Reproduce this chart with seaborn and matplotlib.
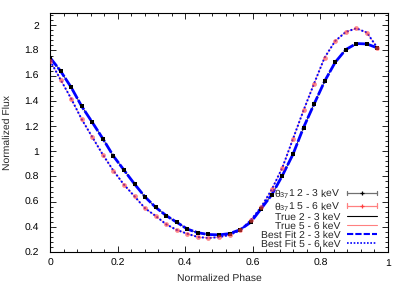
import matplotlib
matplotlib.use("Agg")
import matplotlib.pyplot as plt
import seaborn as sns
import numpy as np
from matplotlib.lines import Line2D
from matplotlib.legend_handler import HandlerBase
from matplotlib.ticker import MultipleLocator, FormatStrFormatter

phase = [0.0, 0.03125, 0.0625, 0.09375, 0.125, 0.15625, 0.1875, 0.21875,
         0.25, 0.28125, 0.3125, 0.34375, 0.375, 0.40625, 0.4375, 0.46875,
         0.5, 0.53125, 0.5625, 0.59375, 0.625, 0.65625, 0.6875, 0.71875,
         0.75, 0.78125, 0.8125, 0.84375, 0.875, 0.90625, 0.9375, 0.96875]

flux_2_3 = [1.744, 1.637, 1.508, 1.357, 1.230, 1.100, 0.962, 0.851,
            0.740, 0.637, 0.555, 0.489, 0.436, 0.382, 0.353, 0.339,
            0.336, 0.346, 0.377, 0.436, 0.545, 0.655, 0.807, 0.975,
            1.188, 1.374, 1.556, 1.706, 1.807, 1.855, 1.852, 1.820]

flux_5_6 = [1.720, 1.569, 1.418, 1.254, 1.113, 0.973, 0.846, 0.735,
            0.642, 0.547, 0.486, 0.420, 0.375, 0.345, 0.319, 0.311,
            0.318, 0.335, 0.372, 0.452, 0.558, 0.697, 0.870, 1.097,
            1.324, 1.537, 1.744, 1.875, 1.947, 1.976, 1.942, 1.820]

true_2_3 = list(flux_2_3)
true_5_6 = list(flux_5_6)
fit_2_3 = list(flux_2_3)
fit_5_6 = list(flux_5_6)

labels = ["θ$_{37}$1 2 - 3 keV", "θ$_{37}$1 5 - 6 keV",
          "True 2 - 3 keV", "True 5 - 6 keV",
          "Best Fit 2 - 3 keV", "Best Fit 5 - 6 keV"]

sns.set_style("ticks")
plt.rcParams["font.family"] = ["Liberation Sans", "DejaVu Sans"]
plt.rcParams["mathtext.fontset"] = "custom"
plt.rcParams["mathtext.rm"] = "Liberation Sans"
plt.rcParams["mathtext.it"] = "Liberation Sans:italic"
plt.rcParams["text.hinting"] = "no_hinting"
FS = 7.5
plt.rcParams["font.size"] = FS

fig = plt.figure(figsize=(4.07, 2.85), dpi=100)
ax = fig.add_axes([50 / 407, 1 - 252 / 285, 338 / 407, (252 - 12.7) / 285])

BLUE = "#0000ff"
RED = "#ff4040"
LRED = "#ff8080"

sns.lineplot(x=phase, y=true_2_3, ax=ax, color="black", lw=0.5, sort=False, estimator=None)
sns.lineplot(x=phase, y=true_5_6, ax=ax, color=LRED, lw=0.5, sort=False, estimator=None)
sns.lineplot(x=phase, y=fit_2_3, ax=ax, color=BLUE, lw=2.0, linestyle=(0, (4, 0.6)),
             sort=False, estimator=None)
sns.lineplot(x=phase, y=fit_5_6, ax=ax, color=BLUE, lw=1.4, linestyle=(0, (1, 1)),
             sort=False, estimator=None)
sns.scatterplot(x=phase, y=flux_2_3, ax=ax, color="black", s=10, marker="s",
                linewidth=0, zorder=5)
sns.scatterplot(x=phase, y=flux_5_6, ax=ax, color=RED, s=12, marker="o",
                linewidth=0, alpha=0.6, zorder=5)

ax.set_xlim(0, 1)
ax.set_ylim(0.2, 2.1)
ax.xaxis.set_major_locator(MultipleLocator(0.2))
ax.xaxis.set_minor_locator(MultipleLocator(0.04))
ax.yaxis.set_major_locator(MultipleLocator(0.2))
ax.yaxis.set_minor_locator(MultipleLocator(0.04))
ax.xaxis.set_major_formatter(FormatStrFormatter("%g"))
ax.yaxis.set_major_formatter(FormatStrFormatter("%g"))
ax.tick_params(which="both", direction="in", top=True, right=True, width=0.6,
               colors="black", labelsize=FS)
ax.tick_params(which="major", length=4)
ax.tick_params(axis="x", which="major", pad=5)
ax.tick_params(axis="y", which="major", pad=8)
ax.tick_params(which="minor", length=2)
for s in ax.spines.values():
    s.set_visible(True)
    s.set_linewidth(0.8)
    s.set_color("black")

ax.set_xlabel("Normalized Phase", fontsize=FS, labelpad=4)
ax.set_ylabel("Normalized Flux", fontsize=FS, labelpad=9)


class GPErrHandler(HandlerBase):
    def __init__(self, line_color, marker_color, **kw):
        super().__init__(**kw)
        self.lc = line_color
        self.mc = marker_color

    def create_artists(self, legend, orig_handle, xdescent, ydescent, width,
                       height, fontsize, trans):
        y = (height - ydescent) / 2
        x0, x1 = -xdescent, width - xdescent
        cap = height * 0.3
        arts = [
            Line2D([x0, x1], [y, y], color=self.lc, lw=0.9),
            Line2D([x0, x0], [y - cap, y + cap], color=self.lc, lw=0.9),
            Line2D([x1, x1], [y - cap, y + cap], color=self.lc, lw=0.9),
            Line2D([(x0 + x1) / 2], [y], color=self.mc, marker="+", ms=3, mew=0.9),
        ]
        for a in arts:
            a.set_transform(trans)
        return arts


h1 = Line2D([], [], color="gray")
h2 = Line2D([], [], color=LRED)
h3 = Line2D([], [], color="black", lw=0.8)
h4 = Line2D([], [], color=LRED, lw=0.8)
h5 = Line2D([], [], color=BLUE, lw=1.5, linestyle=(0, (3, 1)))
h6 = Line2D([], [], color=BLUE, lw=1.2, linestyle=(0, (1, 1)))

leg = ax.legend([h1, h2, h3, h4, h5, h6], labels,
                handler_map={h1: GPErrHandler("#707070", "black"),
                             h2: GPErrHandler(LRED, RED)},
                loc="lower right", bbox_to_anchor=(0.967, 0.012),
                frameon=False, markerfirst=False, fontsize=FS,
                handlelength=2.9, handletextpad=0.6, labelspacing=-0.03,
                borderpad=0, borderaxespad=0)
for t in leg.get_texts():
    t.set_ha("right")
leg._legend_box.align = "right"

fig.savefig("out.png", dpi=100)
